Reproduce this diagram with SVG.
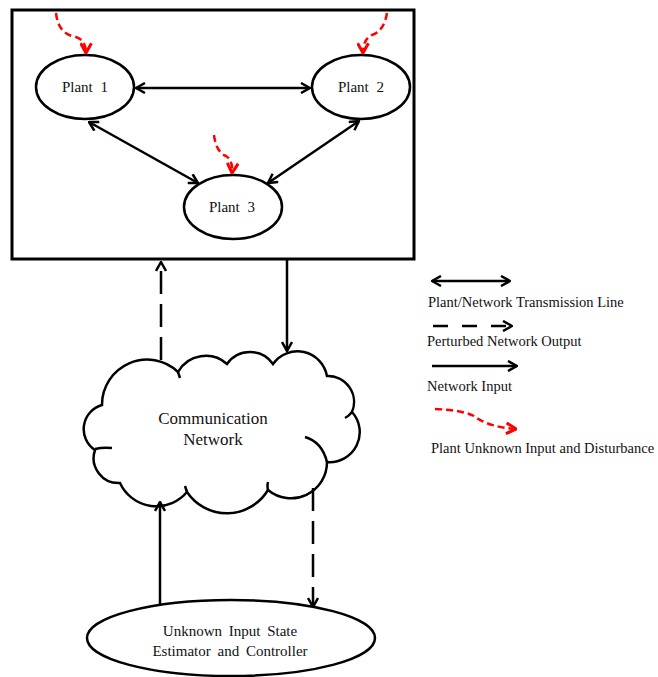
<svg xmlns="http://www.w3.org/2000/svg" width="658" height="677" viewBox="0 0 658 677">
<style>
.node{fill:#fff;stroke:#000;stroke-width:2.5}
.lbl{font-family:"Liberation Serif","Times New Roman",serif;fill:#111}
.plant{font-size:15px;text-anchor:middle;word-spacing:4px}
.leg{font-size:14.5px}
.ln{fill:none;stroke:#000;stroke-width:2.5}
.dash{stroke-dasharray:23 10}
.red{fill:none;stroke:#f00;stroke-width:2.5;stroke-dasharray:7 4}
</style>
<defs>
<marker id="ah" viewBox="0 0 12 12" refX="11" refY="6" markerWidth="12" markerHeight="12" markerUnits="userSpaceOnUse" orient="auto-start-reverse">
<path d="M2 1 L11 6 L2 11" fill="none" stroke="#000" stroke-width="2.5"/>
</marker>
<marker id="ahr" viewBox="0 0 12 12" refX="11" refY="6" markerWidth="13" markerHeight="13" markerUnits="userSpaceOnUse" orient="auto">
<path d="M2 1 L11 6 L2 11" fill="none" stroke="#f00" stroke-width="2.8"/>
</marker>
</defs>
<rect width="658" height="677" fill="#fff"/>
<g id="system">
<rect x="12" y="10" width="402" height="249" fill="none" stroke="#000" stroke-width="3"/>
</g>
<g id="plant1">
<ellipse class="node" cx="85" cy="87" rx="49" ry="32"/>
<text class="lbl plant" x="85" y="92">Plant 1</text>
</g>
<g id="plant2">
<ellipse class="node" cx="361" cy="87" rx="49" ry="32"/>
<text class="lbl plant" x="361" y="92">Plant 2</text>
</g>
<g id="plant3">
<ellipse class="node" cx="233" cy="207" rx="49" ry="32"/>
<text class="lbl plant" x="232" y="212">Plant 3</text>
</g>
<g id="network">
<path class="node" d="M95 450 A25 25 0 0 1 102 405 A45 45 0 0 1 178 372 A32 32 0 0 1 227 364 A28 28 0 0 1 273 364 A30 30 0 0 1 327 376 A26 26 0 0 1 352 412 A30 30 0 0 1 327 462 A36 36 0 0 1 268 490 A48 48 0 0 1 187 492 A40 40 0 0 1 120 483 A25 25 0 0 1 95 450 Z"/>
<path class="ln" d="M95 449 Q103 447 112 448 M178 372 Q179 375 180 378 M352 412 Q349 416 345 418 M327 462 Q322 442 305 437 M268 490 Q267 486 268 482 M187 492 Q186 489 185 486"/>
<text class="lbl" font-size="17" text-anchor="middle" x="213" y="424">Communication</text>
<text class="lbl" font-size="17" text-anchor="middle" x="213" y="445">Network</text>
</g>
<g id="estimator">
<ellipse class="node" cx="231" cy="638" rx="144" ry="38"/>
<text class="lbl" font-size="15" text-anchor="middle" word-spacing="3" x="230" y="636">Unknown Input State</text>
<text class="lbl" font-size="15" text-anchor="middle" word-spacing="3" x="230" y="656">Estimator and Controller</text>
</g>
<g id="connectors">
<line class="ln" x1="136" y1="88" x2="310" y2="88" marker-start="url(#ah)" marker-end="url(#ah)"/>
<line class="ln" x1="89" y1="122" x2="198" y2="183" marker-start="url(#ah)" marker-end="url(#ah)"/>
<line class="ln" x1="359" y1="121" x2="268" y2="183" marker-start="url(#ah)" marker-end="url(#ah)"/>
<path class="red" d="M56 13 Q58 32 72 36 Q86 38 86 53" marker-end="url(#ahr)"/>
<path class="red" d="M387 13 Q384 31 372 35 Q363 39 363 53" marker-end="url(#ahr)"/>
<path class="red" d="M214 135 Q216 152 226 156 Q233 160 232 173" marker-end="url(#ahr)"/>
<line class="ln dash" x1="161" y1="360" x2="161" y2="262" marker-end="url(#ah)"/>
<line class="ln" x1="287" y1="259" x2="287" y2="351" marker-end="url(#ah)"/>
<line class="ln dash" x1="313" y1="488" x2="313" y2="607" marker-end="url(#ah)"/>
<line class="ln" x1="160" y1="606" x2="160" y2="502" marker-end="url(#ah)"/>
</g>
<g id="legend">
<line class="ln" x1="432" y1="281" x2="510" y2="281" marker-start="url(#ah)" marker-end="url(#ah)"/>
<text class="lbl leg" x="428" y="307">Plant/Network Transmission Line</text>
<line class="ln" x1="433" y1="326" x2="512" y2="326" stroke-dasharray="15 14" marker-end="url(#ah)"/>
<text class="lbl leg" x="427" y="346">Perturbed Network Output</text>
<line class="ln" x1="432" y1="366" x2="517" y2="366" marker-end="url(#ah)"/>
<text class="lbl leg" x="427" y="391">Network Input</text>
<path class="red" d="M435 409 Q462 410 474 416 Q488 427 516 429" marker-end="url(#ahr)"/>
<text class="lbl leg" x="431" y="453">Plant Unknown Input and Disturbance</text>
</g>
</svg>
